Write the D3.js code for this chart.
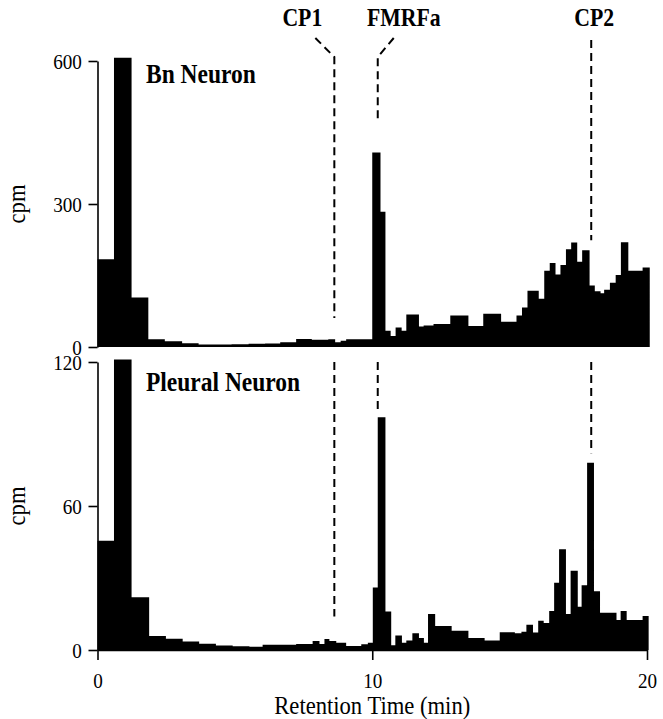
<!DOCTYPE html>
<html>
<head>
<meta charset="utf-8">
<title>Bn / Pleural neuron HPLC</title>
<script src="https://d3js.org/d3.v7.min.js"></script>
<style>
body { margin: 0; background: #fff; }
svg { display: block; background: #fff; }
text { font-family: "Liberation Serif", "Times New Roman", serif; fill: #000; }
.axis path, .axis line { stroke: #000; stroke-width: 1.6; }
.marker { stroke: #000; stroke-width: 2; stroke-dasharray: 8,5; fill: none; }
</style>
</head>
<body>
<script>
// fraction edges in minutes (n+1) and cpm per fraction (n)
var bnEdges = [0, 0.6, 1.24, 1.85, 2.45, 3.08, 3.68, 4.28, 4.88, 5.5,
    6.1, 6.65, 7.23, 7.8, 8.4, 8.65, 8.85, 9.05, 9.5, 10.0,
    10.3, 10.48, 10.67, 10.85, 11.07, 11.24, 11.70, 11.87, 12.23, 12.84,
    13.50, 14.04, 14.69, 15.25, 15.45, 15.65, 16.06, 16.26, 16.46, 16.67,
    16.85, 17.05, 17.24, 17.46, 17.64, 17.91, 18.1, 18.31, 18.44, 18.65,
    18.86, 19.05, 19.32, 19.84, 20.1];
var bnCpm = [184, 607, 104, 16, 12, 8, 5, 5.5, 6, 7,
    7.5, 10, 17, 15, 16, 10, 13, 16, 16, 408,
    284, 34, 23, 41, 34, 68, 43, 45, 48, 66,
    44, 70, 53, 66, 83, 118, 101, 160, 176, 152,
    172, 205, 219, 179, 203, 129, 117, 113, 120, 135,
    151, 220, 160, 167];

var plEdges = [0, 0.6, 1.24, 1.88, 2.49, 3.10, 3.70, 4.31, 4.92, 5.53,
    6.01, 6.62, 7.23, 7.83, 8.08, 8.26, 8.44, 8.69, 9.05, 9.6,
    9.84, 10.02, 10.2, 10.48, 10.69, 10.84, 11.08, 11.24, 11.46, 11.70,
    11.88, 12.03, 12.29, 12.89, 13.50, 14.09, 14.64, 15.19, 15.43, 15.61,
    15.85, 16.04, 16.24, 16.44, 16.62, 16.80, 17.05, 17.22, 17.48, 17.62,
    17.82, 18.07, 18.29, 18.89, 19.04, 19.26, 19.84, 20.06];
var plCpm = [45.5, 121, 22, 5.8, 4.7, 3.5, 2.6, 1.9, 1.6, 1.4,
    2.2, 2.2, 2.5, 3.7, 2.5, 4.6, 3.8, 3, 1.7, 2.4,
    3, 26, 97, 16, 2, 6, 3, 4, 7, 5,
    3, 15, 10, 8, 5, 4, 7.4, 7, 7.6, 10.5,
    7.3, 12.2, 11.3, 16.3, 28, 42, 15, 33, 18, 27,
    78, 24.5, 15.5, 12.5, 16.3, 12.5, 14.2];

var xTicks = [0, 10, 20];
var bnTicks = [0, 300, 600];
var plTicks = [0, 60, 120];

// marked peaks: retention time and the cpm level where the dashed line stops
var peakNames = ['CP1', 'FMRFa', 'CP2'];
var peakTimes = [8.62, 10.2, 17.97];
var peakStopBn = [61, 470, 224];
var peakStopPl = [14, 100, 82];

var W = 663, H = 719;
var sx = 0.87; // glyphs in the scan are a bit narrow

var svg = d3.select('body').append('svg')
    .attr('width', W)
    .attr('height', H);

var x = d3.scaleLinear().domain([0, 20]).range([97.5, 647]);
var yBn = d3.scaleLinear().domain([0, 600]).range([347, 61]);
var yPl = d3.scaleLinear().domain([0, 120]).range([650, 362]);

function steps(edges, vals) {
    var pts = vals.map(function(v, i) { return [edges[i], v]; });
    pts.push([edges[edges.length - 1], vals[vals.length - 1]]);
    return pts;
}

function drawHist(edges, vals, y) {
    var area = d3.area()
        .x(function(d) { return x(d[0]); })
        .y0(y(0))
        .y1(function(d) { return y(d[1]); })
        .curve(d3.curveStepAfter);
    svg.append('path')
        .datum(steps(edges, vals))
        .attr('d', area)
        .attr('fill', '#000');
}

function label(txt, px, py, size, weight, anchor, rot) {
    var g = svg.append('g')
        .attr('transform', 'translate(' + px + ',' + py + ')' + (rot ? ' rotate(' + rot + ')' : ''));
    g.append('text')
        .attr('transform', 'scale(' + sx + ',1)')
        .attr('text-anchor', anchor)
        .style('font-size', size + 'px')
        .style('font-weight', weight)
        .text(txt);
}

drawHist(bnEdges, bnCpm, yBn);
drawHist(plEdges, plCpm, yPl);

// y axes
function yAxis(y, ticks) {
    var g = svg.append('g')
        .attr('class', 'axis')
        .attr('transform', 'translate(' + x(0) + ',0)')
        .call(d3.axisLeft(y).tickValues(ticks).tickSize(9).tickSizeOuter(0).tickPadding(9));
    g.selectAll('text')
        .attr('transform', 'scale(' + sx + ',1)')
        .style('font-size', '22px');
    g.select('.domain').attr('fill', 'none');
}
yAxis(yBn, bnTicks);
yAxis(yPl, plTicks);

// x axis under the bottom panel
var xg = svg.append('g')
    .attr('class', 'axis')
    .attr('transform', 'translate(0,' + yPl(0) + ')')
    .call(d3.axisBottom(x).tickValues(xTicks).tickSize(10).tickSizeOuter(0).tickPadding(12));
xg.selectAll('text')
    .attr('transform', 'scale(' + sx + ',1)')
    .style('font-size', '22px');

// axis titles
label('cpm', 25, yBn(300), 26, 'normal', 'middle', -90);
label('cpm', 25, yPl(60), 26, 'normal', 'middle', -90);
label('Retention Time (min)', x(10), 714, 26, 'normal', 'middle');

// panel names
label('Bn Neuron', 146, 83, 27, 'bold', 'start');
label('Pleural Neuron', 146, 391, 27, 'bold', 'start');

// peak markers
var labelShift = [-32, 26, 3];
var bendDx = [-19, 16, 0];
peakNames.forEach(function(name, i) {
    var lx = x(peakTimes[i]);
    label(name, lx + labelShift[i], 26, 25, 'bold', 'middle');
    var p = d3.path();
    if (bendDx[i] !== 0) {
        p.moveTo(lx + bendDx[i], 38);
        p.lineTo(lx, 57);
    } else {
        p.moveTo(lx, 40);
    }
    p.lineTo(lx, yBn(peakStopBn[i]));
    svg.append('path').attr('class', 'marker').attr('d', p.toString());
    svg.append('line')
        .attr('class', 'marker')
        .attr('x1', lx).attr('x2', lx)
        .attr('y1', yPl(120)).attr('y2', yPl(peakStopPl[i]));
});
</script>
</body>
</html>
